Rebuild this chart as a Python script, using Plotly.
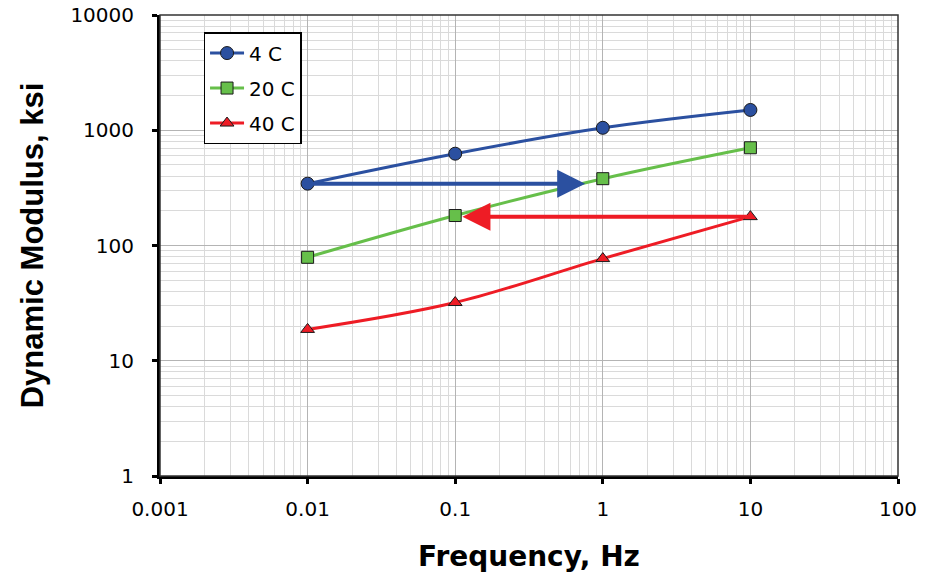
import plotly.graph_objects as go
import math

freq = [0.01, 0.1, 1, 10]
mod_4c = [344, 626, 1050, 1500]
mod_20c = [79, 182, 380, 705]
mod_40c = [18.7, 32, 77, 178]

x_ticks = [0.001, 0.01, 0.1, 1, 10, 100]
x_ticklabels = ["0.001", "0.01", "0.1", "1", "10", "100"]
y_ticks = [1, 10, 100, 1000, 10000]
y_ticklabels = ["1", "10", "100", "1000", "10000"]

# arrows: (start freq, start modulus, end freq)
blue_arrow = (0.01, 344, 0.76)
red_arrow = (10, 178, 0.112)

FONT = "DejaVu Sans, Liberation Sans, Arial"

fig = go.Figure()
series = [
    ("4 C", mod_4c, "#2B50A0", "circle", 13),
    ("20 C", mod_20c, "#66BF4A", "square", 12),
    ("40 C", mod_40c, "#EE1C25", "triangle-up", 12),
]
for name, vals, col, sym, sz in series:
    fig.add_trace(go.Scatter(
        x=freq, y=vals, name=name, legendgroup=name, mode="lines+markers",
        line=dict(color=col, width=3, shape="spline"),
        marker=dict(symbol=sym, size=sz, color=col, line=dict(color="#1a1a1a", width=1)),
    ))

for (x0, y0, x1), col in [(blue_arrow, "#2B50A0"), (red_arrow, "#EE1C25")]:
    fig.add_annotation(
        x=math.log10(x1), y=math.log10(y0), ax=math.log10(x0), ay=math.log10(y0),
        xref="x", yref="y", axref="x", ayref="y", text="", showarrow=True,
        arrowhead=2, arrowsize=1.4, arrowwidth=4, arrowcolor=col,
    )

axis_common = dict(
    type="log", showline=True, linecolor="black", linewidth=3, mirror=False,
    ticks="outside", ticklen=5, tickwidth=3, tickcolor="black",
    showgrid=True, gridcolor="#B4B4B4", gridwidth=1.3,
    tickfont=dict(family=FONT, size=20, color="black"),
    zeroline=False, automargin=False,
    minor=dict(dtick="D1", showgrid=True, gridcolor="#DADADA", gridwidth=1, ticks=""),
)

fig.update_xaxes(
    **axis_common, range=[-3, 2], tickvals=x_ticks, ticktext=x_ticklabels, ticklabelstandoff=8,
    title=dict(text="<b>Frequency, Hz</b>", font=dict(family=FONT, size=28, color="black"), standoff=27),
)
fig.update_yaxes(
    **axis_common, range=[0, 4], tickvals=y_ticks, ticktext=y_ticklabels, ticklabelstandoff=14,
    title=dict(text="<b>Dynamic Modulus, ksi</b>",
               font=dict(family="Liberation Sans, Arial", size=31, color="black"), standoff=18),
)

# thin top/right border
fig.add_shape(type="rect", xref="paper", yref="paper", x0=0, y0=0, x1=1, y1=1,
              line=dict(color="#333333", width=1.5), layer="above")

fig.update_layout(
    width=926, height=577,
    margin=dict(l=160, r=28, t=15, b=101),
    plot_bgcolor="white", paper_bgcolor="white",
    font=dict(family=FONT, color="black"),
    legend=dict(
        x=0.059, y=0.963, xanchor="left", yanchor="top",
        bgcolor="white", bordercolor="black", borderwidth=1.5,
        font=dict(size=20, family=FONT),
        tracegroupgap=6, itemwidth=34,
    ),
)

fig.write_html("out.html", config={"displayModeBar": False},
               post_script="document.body.style.margin='0px';document.body.style.overflow='hidden';")
